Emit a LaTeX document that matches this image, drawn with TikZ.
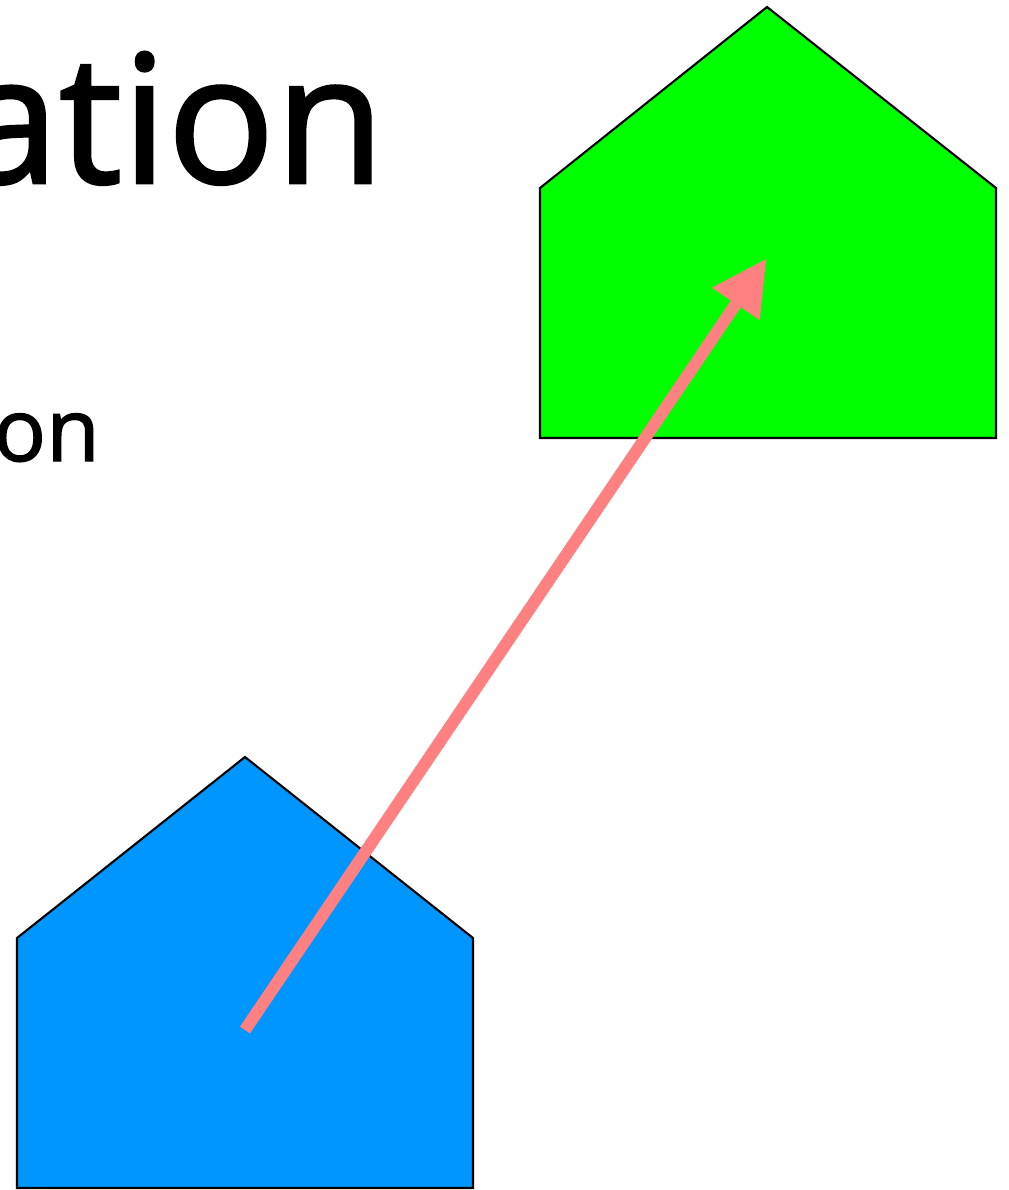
\documentclass[tikz,border=0pt]{standalone}
\usepackage{fontspec}
\setmainfont{Open Sans}
\newfontfamily\slidefont[FakeBold=1.6]{Open Sans}
\usetikzlibrary{arrows.meta}
\definecolor{housegreen}{RGB}{0,255,0}
\definecolor{houseblue}{RGB}{0,150,255}
\definecolor{salmon}{RGB}{255,128,128}
\tikzset{
  % outline of a house
  house/.style={draw=black,line width=1.5pt,line join=miter},
  % the thick move arrow
  move arrow/.style={draw=salmon,line width=8.6pt,
    -{Triangle[length=39pt,width=38.5pt]}},
  % cropped slide text
  slidetext/.style={inner sep=0pt,anchor=base east},
}

\begin{document}
\begin{tikzpicture}[x=0.025cm,y=-0.025cm]
\useasboundingbox (0,0) rectangle (1008,1190);
\clip (0,0) rectangle (1008,1190);
\node[slidetext,font=\slidefont\fontsize{127}{127}\selectfont] (title) at (385,183) {ation};
\node[slidetext,font=\slidefont\fontsize{62}{62}\selectfont] (sub) at (100,461) {on};
% green house
\filldraw[house,fill=housegreen] (540,438) -- (540,188) -- (767,7) -- (996,188) -- (996,438) -- cycle;
% blue house
\filldraw[house,fill=houseblue] (17,1188) -- (17,938) -- (245,757) -- (473,938) -- (473,1188) -- cycle;
\coordinate (from) at (245,1030);
\coordinate (to) at (766.5,258.5);
\draw[move arrow] (from) -- (to);
\end{tikzpicture}
\end{document}
